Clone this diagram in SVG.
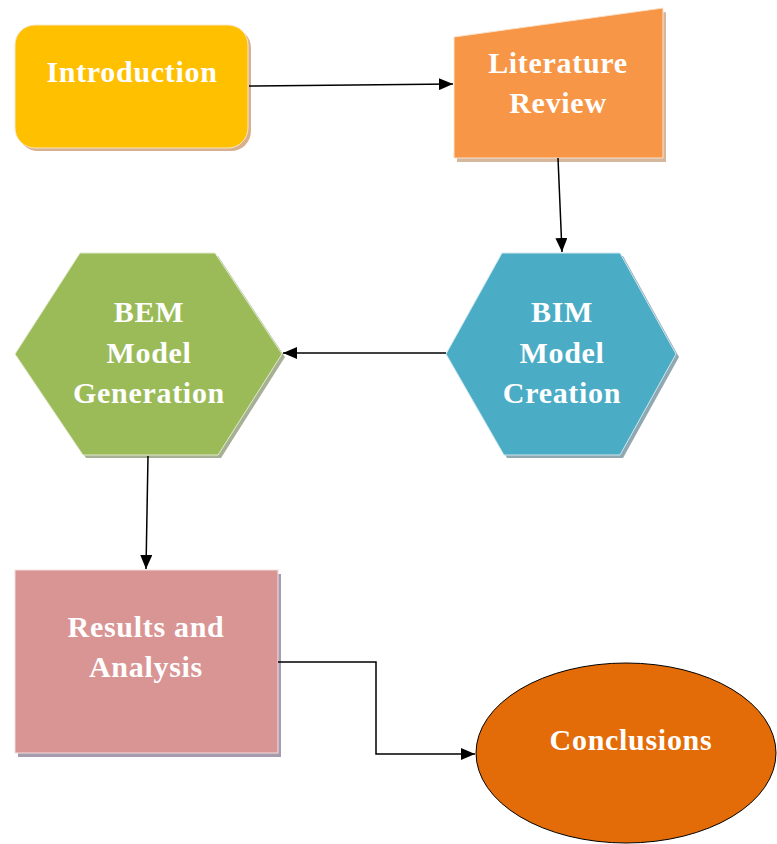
<svg xmlns="http://www.w3.org/2000/svg" width="777" height="844" viewBox="0 0 777 844">
  <defs>
    <marker id="arrow" markerWidth="14" markerHeight="12" refX="14" refY="6" orient="auto" markerUnits="userSpaceOnUse">
      <path d="M0,0 L14,6 L0,12 Z" fill="#000"/>
    </marker>
  </defs>
  <style>
    .label { font-family: "Liberation Serif", "Times New Roman", serif; font-weight: bold; font-size: 30px; letter-spacing: 0.7px; fill: #ffffff; text-anchor: middle; }
    .edge { fill: none; stroke: #000; stroke-width: 1.5; }
  </style>
  <rect width="777" height="844" fill="#ffffff"/>

  <!-- Introduction -->
  <g id="introduction">
    <rect x="18" y="28" width="233" height="123" rx="20" fill="#d8b08e"/>
    <rect x="15" y="25" width="233" height="123" rx="20" fill="#ffc000" stroke="#f6e7c8" stroke-width="1"/>
    <text class="label" x="132" y="82">Introduction</text>
  </g>

  <!-- Literature Review (manual input shape) -->
  <g id="literature-review">
    <polygon points="457,41 666,12 666,162 457,162" fill="#d5b79e"/>
    <polygon points="454,37 663,8 663,158 454,158" fill="#f79646" stroke="#fbe2cc" stroke-width="1"/>
    <text class="label" x="558" y="73">Literature</text>
    <text class="label" x="558" y="113">Review</text>
  </g>

  <!-- BIM Model Creation -->
  <g id="bim-model-creation">
    <polygon points="505,256 623,256 679,357 623,458 507,458 449,357" fill="#8fa8b2"/>
    <polygon points="502,253 620,253 676,354 620,455 504,455 446,354" fill="#4bacc6" stroke="#cfe7ee" stroke-width="1"/>
    <text class="label" x="562" y="322">BIM</text>
    <text class="label" x="562" y="363">Model</text>
    <text class="label" x="562" y="403">Creation</text>
  </g>

  <!-- BEM Model Generation -->
  <g id="bem-model-generation">
    <polygon points="83,256 218,256 285,357 221,458 86,458 18,357" fill="#a6b095"/>
    <polygon points="80,253 215,253 282,354 218,455 83,455 15,354" fill="#9bbb59" stroke="#e1ebcd" stroke-width="1"/>
    <text class="label" x="149" y="322">BEM</text>
    <text class="label" x="149" y="363">Model</text>
    <text class="label" x="149" y="403">Generation</text>
  </g>

  <!-- Results and Analysis -->
  <g id="results-and-analysis">
    <rect x="18" y="574" width="263" height="183" fill="#a59dae"/>
    <rect x="15" y="570" width="263" height="183" fill="#d99594" stroke="#f4dddd" stroke-width="1"/>
    <text class="label" x="146" y="637">Results and</text>
    <text class="label" x="146" y="677">Analysis</text>
  </g>

  <!-- Conclusions -->
  <g id="conclusions">
    <ellipse cx="626" cy="753" rx="150" ry="90" fill="#e36c09" stroke="#000" stroke-width="1"/>
    <text class="label" x="631" y="750">Conclusions</text>
  </g>

  <!-- Connectors -->
  <g id="connectors">
    <line class="edge" x1="249" y1="86" x2="453" y2="84" marker-end="url(#arrow)"/>
    <line class="edge" x1="558" y1="158" x2="562" y2="252" marker-end="url(#arrow)"/>
    <line class="edge" x1="446" y1="353" x2="283" y2="353" marker-end="url(#arrow)"/>
    <line class="edge" x1="148" y1="456" x2="146" y2="569" marker-end="url(#arrow)"/>
    <polyline class="edge" points="278,662 376,662 376,754 475,754" marker-end="url(#arrow)"/>
  </g>
</svg>
